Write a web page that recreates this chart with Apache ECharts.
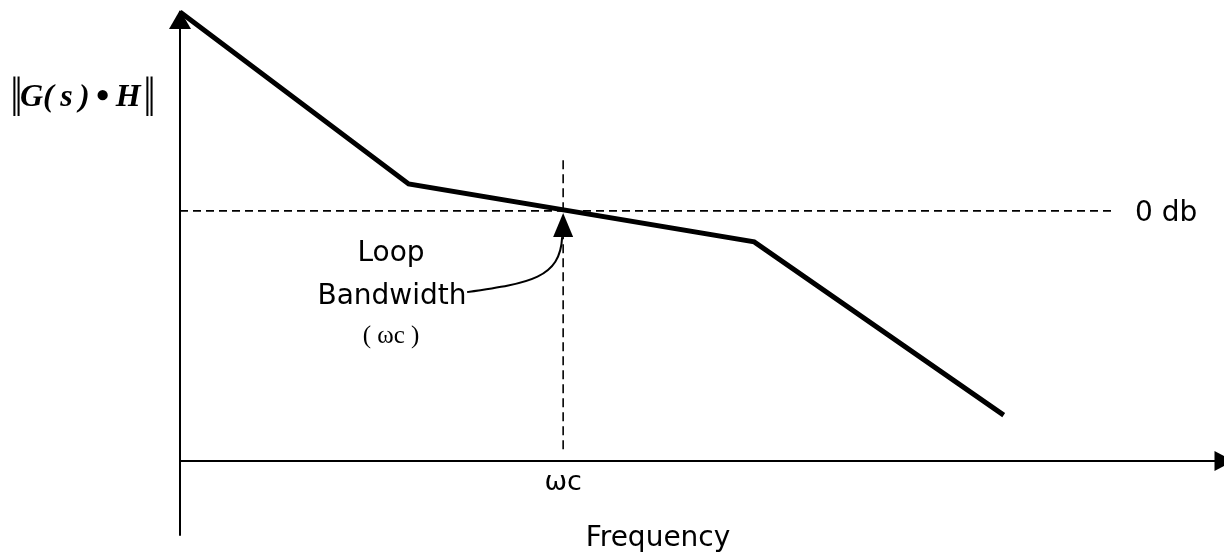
<!DOCTYPE html>
<html>
<head>
<meta charset="utf-8">
<title>Loop bandwidth</title>
<script src="https://cdn.jsdelivr.net/npm/echarts@6/dist/echarts.min.js"></script>
<style>
  html, body { margin: 0; padding: 0; background: #fff; }
  #main { width: 1224px; height: 558px; }
</style>
</head>
<body>
<div id="main"></div>
<script>
// asymptotic magnitude curve (arbitrary units)
var freq = [0, 21.9, 55.0, 78.9];
var gain = [100, 61.7, 48.8, 10.2];

// 0 db reference line and the crossover frequency
var zeroDb = 55.7;
var zeroDbEnd = 89.5;
var wc = 36.7;
var wcTop = 67.0;
var wcBottom = 2.5;

// annotation arrow: from the "Bandwidth" label up to the crossing
var noteFrom = [27.5, 37.6];
var noteTo = [36.7, 55.2];

// labels hanging under the frequency axis
var axisMarks = [wc];
var axisMarkText = ['ωc'];

var sans = '"DejaVu Sans", sans-serif';
var serif = '"Liberation Serif", "DejaVu Serif", serif';

var curve = freq.map(function (f, i) { return [f, gain[i]]; });

var chart = echarts.init(document.getElementById('main'));

// the |G(s)•H| label: thin double bars either side of the bold italic term
function normBar(x) {
  return {
    type: 'text', x: x, y: 97, scaleX: 0.65,
    style: { text: '‖', verticalAlign: 'middle', font: '40px "DejaVu Serif", serif', fill: '#000' }
  };
}

chart.setOption({
  animation: false,
  backgroundColor: '#fff',
  grid: { left: 180, top: 12, width: 1045, bottom: 23 },
  xAxis: {
    type: 'value',
    min: 0,
    max: 100,
    splitLine: { show: false },
    axisTick: { show: false },
    axisLabel: { show: false },
    axisLine: {
      onZero: true,
      symbol: ['none', 'triangle'],
      symbolSize: [20, 19],
      lineStyle: { color: '#000', width: 2 }
    }
  },
  yAxis: {
    type: 'value',
    min: -16.5,
    max: 100,
    splitLine: { show: false },
    axisTick: { show: false },
    axisLabel: { show: false },
    axisLine: {
      symbol: ['none', 'triangle'],
      symbolSize: [22, 19],
      symbolOffset: [0, -7.5],
      lineStyle: { color: '#000', width: 2 }
    }
  },
  series: [
    {
      type: 'line',
      data: [[0, zeroDb], [zeroDbEnd, zeroDb]],
      symbol: 'none',
      lineStyle: { color: '#000', width: 1.6, type: [8, 5] },
      z: 2
    },
    {
      type: 'line',
      data: [[wc, wcTop], [wc, wcBottom]],
      symbol: 'none',
      lineStyle: { color: '#000', width: 1.6, type: [9, 5] },
      z: 2
    },
    {
      type: 'line',
      data: curve,
      symbol: 'none',
      lineStyle: { color: '#000', width: 5, join: 'miter' },
      z: 3
    },
    {
      type: 'custom',
      coordinateSystem: 'cartesian2d',
      silent: true,
      z: 4,
      encode: { x: [0, 2], y: [1, 3] },
      data: [[noteFrom[0], noteFrom[1], noteTo[0], noteTo[1]]],
      renderItem: function (params, api) {
        var a = api.coord([api.value(0), api.value(1)]);
        var b = api.coord([api.value(2), api.value(3)]);
        var baseY = b[1] + 24;
        return {
          type: 'group',
          children: [
            {
              type: 'bezierCurve',
              shape: {
                x1: a[0], y1: a[1],
                cpx1: a[0] + 63, cpy1: a[1] - 9,
                cpx2: b[0] - 3, cpy2: baseY + 41,
                x2: b[0] - 1, y2: baseY
              },
              style: { stroke: '#000', lineWidth: 2, fill: null }
            },
            {
              type: 'polygon',
              shape: { points: [[b[0], b[1]], [b[0] - 10, baseY], [b[0] + 10, baseY]] },
              style: { fill: '#000' }
            }
          ]
        };
      }
    },
    {
      // text marks under the frequency axis
      type: 'scatter',
      silent: true,
      symbolSize: 0.01,
      itemStyle: { color: '#000', opacity: 1 },
      data: axisMarks.map(function (v) { return [v, 0]; }),
      label: {
        show: true,
        position: 'bottom',
        distance: 9,
        color: '#000',
        opacity: 1,
        textBorderWidth: 0,
        fontFamily: sans,
        fontSize: 27,
        formatter: function (p) { return axisMarkText[p.dataIndex]; }
      },
      z: 5
    }
  ],
  graphic: [
    normBar(10),
    {
      type: 'text', x: 20, y: 98,
      style: {
        text: '{g|G(\u2009s\u2009)\u2009}{d|•}{g|\u2009H}',
        verticalAlign: 'middle',
        fill: '#000',
        rich: {
          g: { fontFamily: serif, fontSize: 32, fontStyle: 'italic', fontWeight: 'bold', fill: '#000' },
          d: { fontFamily: serif, fontSize: 38, fontWeight: 'bold', fill: '#000' }
        }
      }
    },
    normBar(143),
    { type: 'text', x: 391, y: 254, style: { text: 'Loop', align: 'center', verticalAlign: 'middle', font: '28px ' + sans, fill: '#000' } },
    { type: 'text', x: 392, y: 297, style: { text: 'Bandwidth', align: 'center', verticalAlign: 'middle', font: '28px ' + sans, fill: '#000' } },
    { type: 'text', x: 391, y: 336, style: { text: '( ωc )', align: 'center', verticalAlign: 'middle', font: '25px ' + serif, fill: '#000' } },
    { type: 'text', x: 1135, y: 214, style: { text: '0 db', align: 'left', verticalAlign: 'middle', font: '28px ' + sans, fill: '#000' } },
    { type: 'text', x: 658, y: 539, style: { text: 'Frequency', align: 'center', verticalAlign: 'middle', font: '28px ' + sans, fill: '#000' } }
  ]
});
</script>
</body>
</html>
